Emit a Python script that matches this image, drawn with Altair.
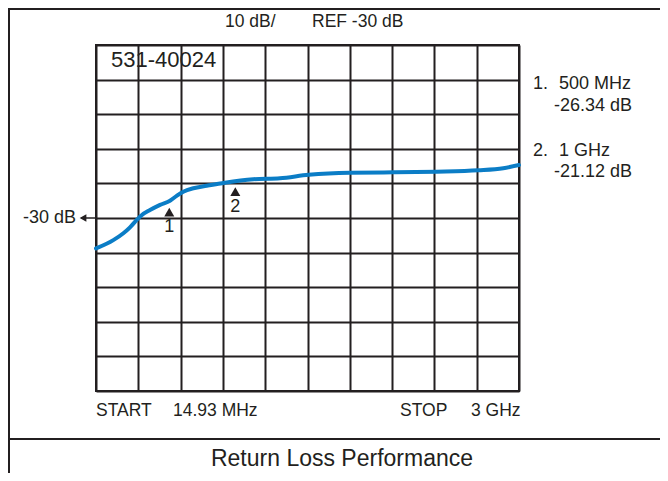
import altair as alt
import pandas as pd

# ---- data ----
freq_mhz = [15, 137, 208, 255, 290, 337, 396, 467, 537, 584, 631, 702, 796, 925,
            1125, 1313, 1516, 1807, 2113, 2419, 2713, 2889, 3000]
return_db = [-38.8, -36.4, -34.4, -32.7, -31.1, -29.2, -27.7, -26.2, -25.0, -23.6,
             -22.4, -21.4, -20.7, -19.8, -18.8, -18.5, -17.5, -16.9, -16.8, -16.6,
             -16.2, -15.6, -14.7]

marker_freq = [532, 998]
marker_db = [-28.3, -22.4]
marker_label = ["1", "2"]

x_start, x_stop = 14.93, 3000.0
y_min, y_max = -80, 20
x_grid = [x_start + i * (x_stop - x_start) / 10 for i in range(11)]
y_grid = [float(v) for v in range(y_min, y_max + 1, 10)]

INK = "#231f20"
BLUE = "#0b7dc6"
FONT = "Liberation Sans"
W, H = 423, 346

trace = pd.DataFrame({"f": freq_mhz, "db": return_db})
markers = pd.DataFrame({"f": marker_freq, "db": marker_db, "lab": marker_label})

xs = alt.Scale(domain=[x_start, x_stop], nice=False, zero=False)
ys = alt.Scale(domain=[y_min, y_max], nice=False, zero=False)
xax = alt.Axis(values=x_grid, labels=False, ticks=False, domain=False, title=None,
               grid=True, gridColor=INK, gridWidth=2, gridOpacity=1)
yax = alt.Axis(values=y_grid, labels=False, ticks=False, domain=False, title=None,
               grid=True, gridColor=INK, gridWidth=2, gridOpacity=1)

X = alt.X("f:Q", scale=xs, axis=xax)
Y = alt.Y("db:Q", scale=ys, axis=yax)

line = alt.Chart(trace).mark_line(color=BLUE, strokeWidth=4, interpolate="monotone",
                                  strokeCap="round").encode(x=X, y=Y)

tri = alt.Chart(markers).mark_point(shape="triangle-up", filled=True, color=INK,
                                    size=100, opacity=1).encode(x=X, y=Y)
tri_lab = alt.Chart(markers).mark_text(font=FONT, fontSize=18, color=INK, dy=15,
                                       baseline="middle").encode(x=X, y=Y, text="lab:N")

one = alt.Data(values=[{}])


def label(txt, x, y, size, align="left"):
    return alt.Chart(one).mark_text(font=FONT, fontSize=size, color=INK, align=align,
                                    baseline="alphabetic").encode(
        x=alt.value(x), y=alt.value(y), text=alt.value(txt))


def rule(x, y, x2, y2, width=2):
    return alt.Chart(one).mark_rule(color=INK, strokeWidth=width).encode(
        x=alt.value(x), y=alt.value(y), x2=alt.value(x2), y2=alt.value(y2))


texts = [
    label("10 dB/", 129, -18, 17.5),
    label("REF -30 dB", 216, -18, 17.5),
    label("531-40024", 15, 22, 22),
    label("1.", 437, 44, 18),
    label("500 MHz", 463, 44, 18),
    label("-26.34 dB", 458, 66, 18),
    label("2.", 437, 111, 18),
    label("1 GHz", 463, 111, 18),
    label("-21.12 dB", 458, 132, 18),
    label("-30 dB", -20, 178, 18, "right"),
    label("START", 0, 371, 17.5),
    label("14.93 MHz", 77, 371, 17.5),
    label("STOP", 304, 371, 17.5),
    label("3 GHz", 375, 371, 17.5),
    label("Return Loss Performance", 246, 421, 23, "center"),
]

frame = [
    rule(-87, -36, 564, -36),
    rule(-87, -37, -87, 428),
    rule(-88, 394, 564, 394),
    rule(-15, 173, 0, 173, 1.5),
]
arrow = alt.Chart(one).mark_point(shape="triangle-left", filled=True, color=INK,
                                  size=60, opacity=1).encode(
    x=alt.value(-13), y=alt.value(173))

chart = alt.layer(line, tri, tri_lab, *texts, *frame, arrow).properties(
    width=W, height=H,
    autosize=alt.AutoSizeParams(type="none"),
    padding={"left": 88, "top": 37, "right": 141, "bottom": 82},
).configure_view(stroke=INK, strokeWidth=2)

chart.save("out.html", embed_options={"renderer": "svg", "actions": False})
